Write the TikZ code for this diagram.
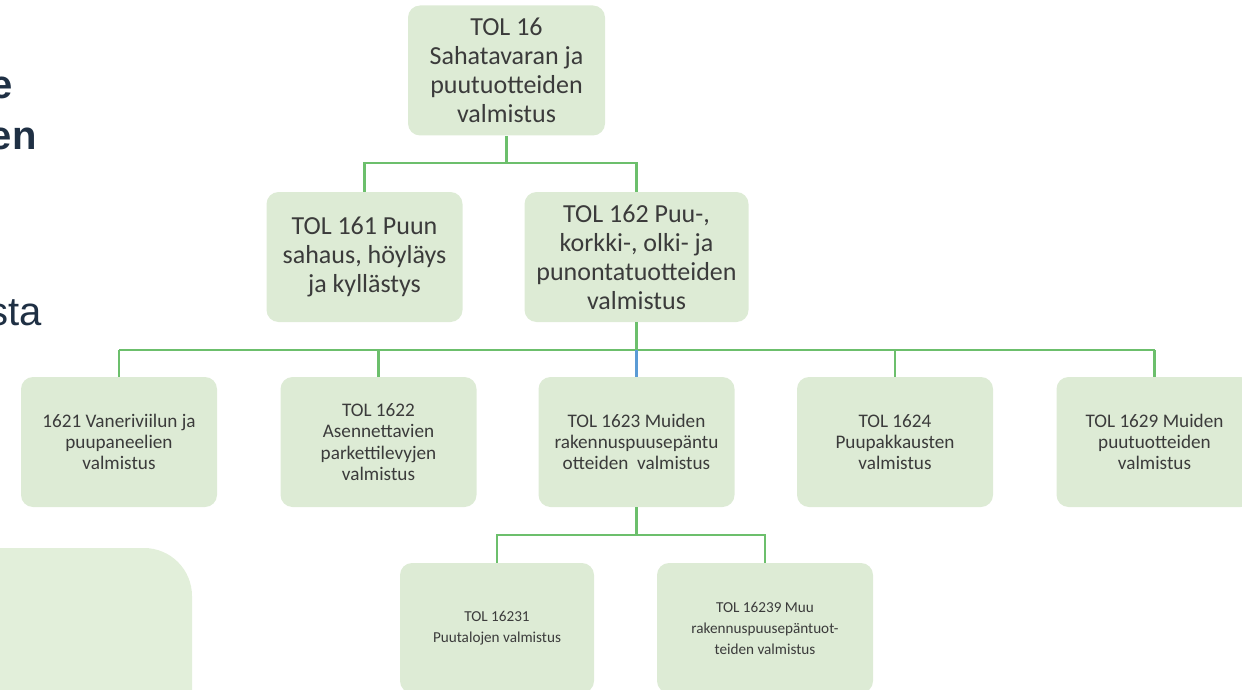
\documentclass[tikz,border=0pt]{standalone}
\usepackage{fontspec}
\setmainfont{Carlito}
\newfontfamily\slidefont{Liberation Sans}
\definecolor{boxgreen}{HTML}{DDEBD5}
\definecolor{panelgreen}{HTML}{E2EFDA}
\definecolor{linegreen}{HTML}{6CBF6C}
\definecolor{linkblue}{HTML}{5B9BD5}
\definecolor{slidetext}{HTML}{1F3044}
\definecolor{boxtext}{HTML}{3B3B3B}
\tikzset{
  orgbox/.style={rectangle, rounded corners=6pt, fill=boxgreen, text=boxtext, align=center, inner sep=2pt},
  bigbox/.style={orgbox, font=\fontsize{13}{14.5}\selectfont, minimum height=65pt},
  midbox/.style={orgbox, font=\fontsize{9.6}{10.7}\selectfont, minimum width=98pt, minimum height=65pt},
  lowbox/.style={orgbox, font=\fontsize{7.6}{10.5}\selectfont, minimum height=65pt},
  conn/.style={draw=linegreen, line width=1.1pt},
  slide/.style={text=slidetext, anchor=base east, inner sep=0pt}
}
\begin{document}
\begin{tikzpicture}[x=0.5pt,y=-0.5pt]
\useasboundingbox (0,0) rectangle (1242,690);
\clip (0,0) rectangle (1242,690);
\fill[panelgreen, rounded corners=24pt] (-60,548) rectangle (192,760);

\node[slide, font=\slidefont\bfseries\fontsize{20}{24}\selectfont] (word1) at (13,98) {e};
\node[slide, font=\slidefont\bfseries\fontsize{20}{24}\selectfont] (word2) at (37,149) {en};
\node[slide, font=\slidefont\fontsize{20}{24}\selectfont] (word3) at (42,325) {sta};

\coordinate (bus1) at (0,163);
\coordinate (bus2) at (0,350);
\coordinate (bus3) at (0,535);

\node[bigbox, minimum width=98.5pt] (top) at (506.5,70.5) {TOL 16\\Sahatavaran ja\\puutuotteiden\\valmistus};
\node[bigbox, minimum width=98pt] (n161) at (364.5,257) {TOL 161 Puun\\sahaus, höyläys\\ja kyllästys};
\node[bigbox, minimum width=112pt] (n162) at (636.5,257) {TOL 162 Puu-,\\korkki-, olki- ja\\punontatuotteiden\\valmistus};

\node[midbox] (n1621) at (119,442) {1621 Vaneriviilun ja\\puupaneelien\\valmistus};
\node[midbox] (n1622) at (378.5,442) {TOL 1622\\Asennettavien\\parkettilevyjen\\valmistus};
\node[midbox] (n1623) at (636.5,442) {TOL 1623 Muiden\\rakennuspuusepäntu\\otteiden\ \ valmistus};
\node[midbox] (n1624) at (895,442) {TOL 1624\\Puupakkausten\\valmistus};
\node[midbox] (n1629) at (1154.5,442) {TOL 1629 Muiden\\puutuotteiden\\valmistus};

\node[lowbox, minimum width=97pt] (n16231) at (497,628) {TOL 16231\\Puutalojen valmistus};
\node[lowbox, minimum width=108pt] (n16239) at (765,628) {TOL 16239 Muu\\rakennuspuusepäntuot-\\teiden valmistus};

\draw[conn] (top.south) -- (top.south |- bus1);
\draw[conn] (n161.north) |- (n162.north |- bus1) -- (n162.north);
\draw[conn] (n162.south) -- (n162.south |- bus2);
\draw[conn] (n1621.north |- bus2) -- (n1629.north |- bus2);
\foreach \n in {n1621,n1622,n1624,n1629}
  \draw[conn] (\n.north |- bus2) -- (\n.north);
\draw[conn, draw=linkblue] (n162.south |- bus2) -- (n1623.north);
\draw[conn] (n1623.south) -- (n1623.south |- bus3);
\draw[conn] (n16231.north) |- (n16239.north |- bus3) -- (n16239.north);
\end{tikzpicture}
\end{document}
